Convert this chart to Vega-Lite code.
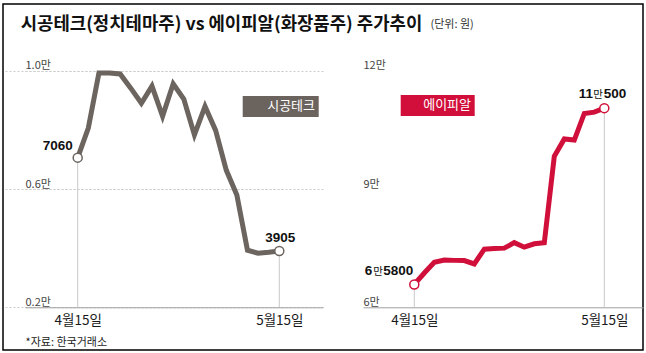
{
  "$schema": "https://vega.github.io/schema/vega-lite/v6.json",
  "width": 646,
  "height": 353,
  "autosize": {"type": "fit", "contains": "padding"},
  "padding": {"left": 3, "top": 4, "right": 3, "bottom": 3},
  "background": "white",
  "config": {
    "view": {"stroke": "black", "strokeWidth": 1.5},
    "font": "Noto Sans CJK KR"
  },
  "title": {
    "text": "시공테크(정치테마주) vs 에이피알(화장품주) 주가추이",
    "anchor": "start",
    "frame": "group",
    "dx": 17.7,
    "offset": -29.5,
    "fontSize": 17.8,
    "fontWeight": "bold",
    "color": "#111111",
    "font": "Noto Sans CJK KR"
  },
  "datasets": {
    "sig": [
      {"s": "시공테크", "d": 0, "v": 7060, "t1": "7060"},
      {"s": "시공테크", "d": 1, "v": 8060},
      {"s": "시공테크", "d": 2, "v": 9920},
      {"s": "시공테크", "d": 3, "v": 9920},
      {"s": "시공테크", "d": 4, "v": 9890},
      {"s": "시공테크", "d": 5, "v": 9410},
      {"s": "시공테크", "d": 6, "v": 8900},
      {"s": "시공테크", "d": 7, "v": 9480},
      {"s": "시공테크", "d": 8, "v": 8460},
      {"s": "시공테크", "d": 9, "v": 9560},
      {"s": "시공테크", "d": 10, "v": 9040},
      {"s": "시공테크", "d": 11, "v": 7830},
      {"s": "시공테크", "d": 12, "v": 8790},
      {"s": "시공테크", "d": 13, "v": 7980},
      {"s": "시공테크", "d": 14, "v": 6640},
      {"s": "시공테크", "d": 15, "v": 5800},
      {"s": "시공테크", "d": 16, "v": 3930},
      {"s": "시공테크", "d": 17, "v": 3830},
      {"s": "시공테크", "d": 18, "v": 3860},
      {"s": "시공테크", "d": 19, "v": 3905, "t1": "3905"}
    ],
    "apr": [
      {"s": "에이피알", "d": 0, "v": 65800, "t1": "6", "t2": "만", "t3": "5800"},
      {"s": "에이피알", "d": 1, "v": 68700},
      {"s": "에이피알", "d": 2, "v": 71400},
      {"s": "에이피알", "d": 3, "v": 72000},
      {"s": "에이피알", "d": 4, "v": 71900},
      {"s": "에이피알", "d": 5, "v": 71850},
      {"s": "에이피알", "d": 6, "v": 71000},
      {"s": "에이피알", "d": 7, "v": 74750},
      {"s": "에이피알", "d": 8, "v": 74900},
      {"s": "에이피알", "d": 9, "v": 75000},
      {"s": "에이피알", "d": 10, "v": 76400},
      {"s": "에이피알", "d": 11, "v": 75250},
      {"s": "에이피알", "d": 12, "v": 76100},
      {"s": "에이피알", "d": 13, "v": 76350},
      {"s": "에이피알", "d": 14, "v": 98300},
      {"s": "에이피알", "d": 15, "v": 102700},
      {"s": "에이피알", "d": 16, "v": 102400},
      {"s": "에이피알", "d": 17, "v": 109150},
      {"s": "에이피알", "d": 18, "v": 109500},
      {"s": "에이피알", "d": 19, "v": 110500, "t1": "11", "t2": "만", "t3": "500"}
    ]
  },
  "layer": [
    {
      "data": {"name": "sig"},
      "encoding": {
        "x": {
          "field": "d", "type": "quantitative",
          "scale": {"domain": [-4.967, 23.119], "range": [22, 320], "nice": false, "zero": false},
          "axis": {
            "orient": "bottom", "offset": -42.7, "values": [0, 19],
            "labelExpr": "datum.value == 0 ? '4월15일' : '5월15일'",
            "ticks": false, "tickSize": 0, "grid": false, "minExtent": 0,
            "domainColor": "#a0a0a0", "domainWidth": 1,
            "labelFontSize": 13.5, "labelColor": "#1a1a1a", "labelPadding": 6, "labelFlush": false, "labelOverlap": false,
            "title": "*자료: 한국거래소", "titleX": 22, "titleY": 35.4, "titleAlign": "left", "titleBaseline": "middle",
            "titleAngle": 0, "titleFontSize": 11, "titleFontWeight": "normal", "titleColor": "#222222"
          }
        },
        "y": {
          "field": "v", "type": "quantitative",
          "scale": {"domain": [2000, 10000], "range": [303.3, 66.7], "nice": false, "zero": false},
          "axis": {
            "orient": "left", "offset": -22, "values": [2000, 6000, 10000],
            "labelExpr": "format(datum.value / 10000, '.1f') + '만'",
            "labelAlign": "left", "labelBaseline": "bottom", "labelPadding": 0,
            "ticks": false, "tickSize": 0, "domain": false, "minExtent": 0,
            "grid": true, "gridColor": "#cccccc", "gridDash": [2, 2], "gridWidth": 1,
            "labelFontSize": 11, "labelColor": "#444444", "labelOverlap": false, "title": null
          }
        }
      },
      "layer": [
        {
          "transform": [{"filter": "datum.d == 0 || datum.d == 19"}],
          "mark": {"type": "rule", "color": "#c8c8c8", "strokeWidth": 1},
          "encoding": {"y2": {"datum": 2000}}
        },
        {
          "mark": {"type": "line", "strokeWidth": 5},
          "encoding": {
            "color": {
              "field": "s", "type": "nominal",
              "scale": {"domain": ["시공테크"], "range": ["#6b645f"]},
              "legend": {
                "orient": "none", "legendX": 239.7, "legendY": 92, "title": null,
                "fillColor": "#6b635e", "padding": 3.5,
                "labelColor": "white", "labelFontSize": 13, "labelFont": "Noto Sans CJK KR",
                "symbolType": "square", "symbolSize": 0, "symbolStrokeWidth": 0, "symbolOpacity": 0,
                "labelOffset": 8,
                "labelExpr": "datum.label + '   '"
              }
            }
          }
        },
        {
          "transform": [{"filter": "datum.d == 0 || datum.d == 19"}],
          "mark": {"type": "point", "filled": true, "fill": "white", "stroke": "#6b645f", "strokeWidth": 1.5, "size": 81, "opacity": 1}
        },
        {
          "transform": [{"filter": "datum.d == 0"}],
          "mark": {"type": "text", "align": "right", "baseline": "alphabetic", "dx": -5, "dy": -7.6,
                   "font": "Liberation Sans", "fontSize": 13.5, "fontWeight": "bold", "color": "#111111"},
          "encoding": {"text": {"field": "t1"}}
        },
        {
          "transform": [{"filter": "datum.d == 19"}],
          "mark": {"type": "text", "align": "center", "baseline": "alphabetic", "dx": 1, "dy": -9.2,
                   "font": "Liberation Sans", "fontSize": 13.5, "fontWeight": "bold", "color": "#111111"},
          "encoding": {"text": {"field": "t1"}}
        }
      ]
    },
    {
      "data": {"name": "apr"},
      "encoding": {
        "x": {
          "field": "d", "type": "quantitative",
          "scale": {"domain": [-5.13, 22.87], "range": [360, 640], "nice": false, "zero": false},
          "axis": {
            "orient": "bottom", "offset": -42.7, "values": [0, 19],
            "labelExpr": "datum.value == 0 ? '4월15일' : '5월15일'",
            "ticks": false, "tickSize": 0, "grid": false, "minExtent": 0,
            "domainColor": "#a0a0a0", "domainWidth": 1,
            "labelFontSize": 13.5, "labelColor": "#1a1a1a", "labelPadding": 6, "labelFlush": false, "labelOverlap": false,
            "title": null
          }
        },
        "y": {
          "field": "v", "type": "quantitative",
          "scale": {"domain": [60000, 120000], "range": [303.3, 66.7], "nice": false, "zero": false},
          "axis": {
            "orient": "right", "offset": -280, "values": [60000, 90000, 120000],
            "labelExpr": "(datum.value / 10000) + '만'",
            "labelAlign": "left", "labelBaseline": "bottom", "labelPadding": 0,
            "ticks": false, "tickSize": 0, "domain": false, "minExtent": 0,
            "grid": true, "gridColor": "#cccccc", "gridDash": [2, 2], "gridWidth": 1,
            "labelFontSize": 11, "labelColor": "#444444", "labelOverlap": false,
            "title": "(단위: 원)", "titleX": 67, "titleY": 20, "titleAngle": 0, "titleAlign": "left", "titleBaseline": "middle",
            "titleFontSize": 11, "titleFontWeight": "normal", "titleColor": "#333333"
          }
        }
      },
      "layer": [
        {
          "transform": [{"filter": "datum.d == 0 || datum.d == 19"}],
          "mark": {"type": "rule", "color": "#c8c8c8", "strokeWidth": 1},
          "encoding": {"y2": {"datum": 60000}}
        },
        {
          "mark": {"type": "line", "strokeWidth": 5},
          "encoding": {
            "color": {
              "field": "s", "type": "nominal",
              "scale": {"domain": ["에이피알"], "range": ["#d0103a"]},
              "legend": {
                "orient": "none", "legendX": 397.7, "legendY": 91, "title": null,
                "fillColor": "#d20f3b", "padding": 3.5,
                "labelColor": "white", "labelFontSize": 13, "labelFont": "Noto Sans CJK KR",
                "symbolType": "square", "symbolSize": 0, "symbolStrokeWidth": 0, "symbolOpacity": 0,
                "labelOffset": 6,
                "labelExpr": "datum.label + '  '"
              }
            }
          }
        },
        {
          "transform": [{"filter": "datum.d == 0 || datum.d == 19"}],
          "mark": {"type": "point", "filled": true, "fill": "white", "stroke": "#d0103a", "strokeWidth": 1.5, "size": 81, "opacity": 1}
        },
        {
          "transform": [{"filter": "datum.d == 0"}],
          "mark": {"type": "text", "align": "right", "baseline": "alphabetic", "dx": -42, "dy": -9.3,
                   "font": "Liberation Sans", "fontSize": 13.5, "fontWeight": "bold", "color": "#111111"},
          "encoding": {"text": {"field": "t1"}}
        },
        {
          "transform": [{"filter": "datum.d == 0"}],
          "mark": {"type": "text", "align": "right", "baseline": "alphabetic", "dx": -31.5, "dy": -9.3,
                   "font": "Noto Sans CJK KR", "fontSize": 10.5, "color": "#111111"},
          "encoding": {"text": {"field": "t2"}}
        },
        {
          "transform": [{"filter": "datum.d == 0"}],
          "mark": {"type": "text", "align": "right", "baseline": "alphabetic", "dx": -1, "dy": -9.3,
                   "font": "Liberation Sans", "fontSize": 13.5, "fontWeight": "bold", "color": "#111111"},
          "encoding": {"text": {"field": "t3"}}
        },
        {
          "transform": [{"filter": "datum.d == 19"}],
          "mark": {"type": "text", "align": "right", "baseline": "alphabetic", "dx": -11.2, "dy": -10.2,
                   "font": "Liberation Sans", "fontSize": 13.5, "fontWeight": "bold", "color": "#111111"},
          "encoding": {"text": {"field": "t1"}}
        },
        {
          "transform": [{"filter": "datum.d == 19"}],
          "mark": {"type": "text", "align": "left", "baseline": "alphabetic", "dx": -11, "dy": -10.2,
                   "font": "Noto Sans CJK KR", "fontSize": 10.5, "color": "#111111"},
          "encoding": {"text": {"field": "t2"}}
        },
        {
          "transform": [{"filter": "datum.d == 19"}],
          "mark": {"type": "text", "align": "left", "baseline": "alphabetic", "dx": -0.5, "dy": -10.2,
                   "font": "Liberation Sans", "fontSize": 13.5, "fontWeight": "bold", "color": "#111111"},
          "encoding": {"text": {"field": "t3"}}
        }
      ]
    }
  ],
  "resolve": {
    "scale": {"x": "independent", "y": "independent", "color": "independent"},
    "axis": {"x": "independent", "y": "independent"},
    "legend": {"color": "independent"}
  }
}
